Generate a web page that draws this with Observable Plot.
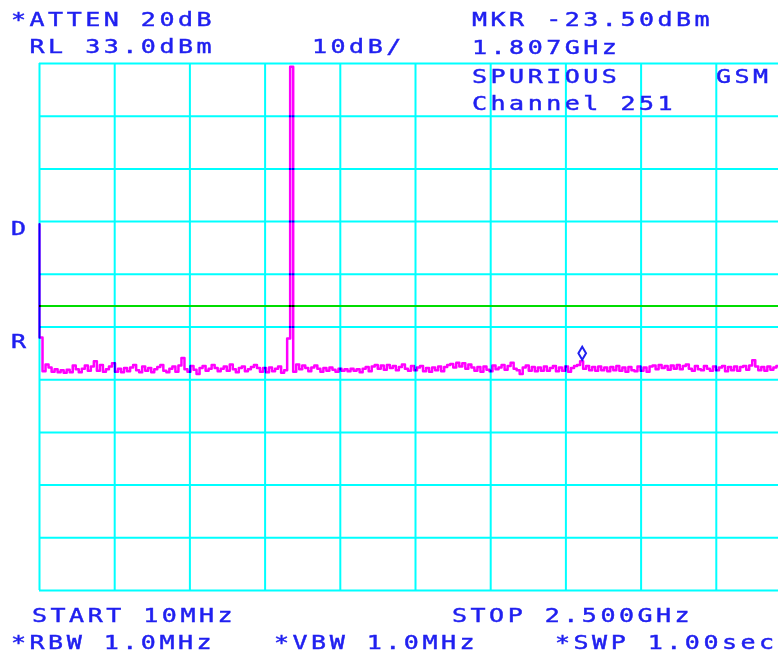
<!DOCTYPE html>
<html>
<head>
<meta charset="utf-8">
<script src="https://cdn.jsdelivr.net/npm/d3@7"></script>
<script src="https://cdn.jsdelivr.net/npm/@observablehq/plot@0.6"></script>
<style>
  html, body { margin: 0; padding: 0; background: #fff; overflow: hidden; }
  #screen { position: relative; width: 778px; height: 661px; }
  #screen svg { position: absolute; left: 0; top: 0; }
  .lbl {
    position: absolute;
    font-family: "DejaVu Sans Mono", "Liberation Mono", monospace;
    font-size: 20px;
    line-height: 1;
    color: #2020f0;
    -webkit-text-stroke: 0.45px #2020f0;
    white-space: pre;
    letter-spacing: 2.8px;
    transform: scaleX(1.25);
    transform-origin: 0 0;
  }
</style>
</head>
<body>
<div id="screen"></div>
<script>
// ---------------- data ----------------
const START_MHZ = 10;
const STOP_MHZ = 2500;

// sweep trace, dBm, evenly spaced sweep points from START to STOP
const traceDbm = [
  2.5, -19.0, -25.4, -24.1, -24.7, -25.5, -25.0, -25.6, -25.2, -25.7,
  -25.1, -25.6, -24.3, -25.0, -25.6, -24.9, -24.3, -25.3, -24.5, -23.5,
  -25.3, -24.2, -25.5, -25.0, -24.5, -23.9, -25.5, -24.9, -25.6, -24.8,
  -25.4, -24.7, -24.2, -25.2, -25.6, -24.5, -25.3, -24.8, -25.6, -25.0,
  -24.6, -24.2, -25.3, -25.6, -24.9, -24.5, -25.5, -24.3, -22.9, -25.0,
  -25.5, -24.4, -25.1, -25.9, -24.8, -24.4, -25.3, -24.9, -24.2, -24.8,
  -25.4, -24.9, -24.5, -25.3, -24.1, -25.0, -25.6, -24.8, -24.5, -25.4,
  -25.0, -24.6, -24.2, -24.8, -25.5, -24.8, -25.6, -24.7, -25.4, -24.9,
  -24.5, -25.7, -25.2, -19.2, 32.4, -25.5, -24.1, -25.0, -24.3, -24.8,
  -25.4, -24.7, -24.3, -24.9, -25.5, -24.8, -25.3, -24.7, -25.1, -25.5,
  -24.9, -25.3, -25.0, -25.4, -24.9, -25.3, -25.0, -25.6, -24.9, -24.6,
  -25.4, -24.5, -24.2, -24.9, -24.3, -25.1, -24.2, -24.8, -24.4, -25.2,
  -24.6, -24.1, -24.9, -25.3, -24.4, -25.2, -24.7, -24.4, -25.4, -24.8,
  -25.5, -24.7, -25.2, -24.5, -25.4, -24.6, -24.2, -24.0, -24.7, -23.8,
  -24.5, -23.9, -24.9, -24.1, -24.7, -25.3, -24.6, -25.5, -24.5, -25.1,
  -25.4, -24.3, -25.0, -24.7, -24.2, -25.1, -24.4, -23.8, -24.9, -25.2,
  -25.9, -24.7, -24.3, -25.3, -24.6, -25.4, -24.7, -25.3, -24.5, -25.3,
  -24.8, -24.4, -25.4, -24.7, -25.3, -24.5, -25.5, -24.8, -24.4, -24.2,
  -23.5, -24.9, -24.4, -25.2, -24.6, -25.3, -24.5, -25.2, -24.7, -25.4,
  -24.6, -25.2, -24.4, -25.3, -24.7, -25.5, -24.6, -25.2, -25.4, -24.5,
  -25.3, -24.7, -25.5, -24.5, -24.3, -25.0, -24.2, -24.8, -24.4, -25.1,
  -24.3, -24.9, -24.2, -25.0, -24.4, -24.1, -24.9, -25.3, -24.4, -25.0,
  -25.2, -24.4, -24.9, -25.3, -24.5, -25.2, -24.7, -24.4, -25.4, -24.6,
  -25.2, -24.5, -25.3, -24.6, -24.4, -25.1, -24.3, -23.3, -24.5, -25.2,
  -24.6, -25.3, -24.5, -25.1, -24.7, -24.4, -25.0, -24.6, -25.1, -24.7
];

// graticule divisions
const gridFreqMHz = [10, 259, 508, 757, 1006, 1255, 1504, 1753, 2002, 2251, 2500];
const gridDbm = [33, 23, 13, 3, -7, -17, -27, -37, -47, -57, -67];

// spurious limit line
const limitDbm = [-13];

// marker
const markerFreqMHz = [1807];
const markerDbm = [-23.5];

// annotation texts
const headerLeft = ["*ATTEN 20dB", " RL 33.0dBm"];
const scaleLabel = ["10dB/"];
const headerRight = ["MKR -23.50dBm", "1.807GHz", "SPURIOUS", "Channel 251"];
const systemLabel = ["GSM"];
const sideLabels = ["D", "R"];
const footerTop = ["START 10MHz", "STOP 2.500GHz"];
const footerBottom = ["*RBW 1.0MHz", "*VBW 1.0MHz", "*SWP 1.00sec"];

// ---------------- build ----------------
const step = (STOP_MHZ - START_MHZ) / (traceDbm.length - 1);
const trace = traceDbm.map((v, i) => ({f: START_MHZ + i * step, v}));
const marker = markerFreqMHz.map((f, i) => ({f, v: markerDbm[i]}));

const CYAN = "#00ffff";
const chart = Plot.plot({
  width: 778,
  height: 661,
  x: {type: "linear", domain: [START_MHZ, STOP_MHZ], range: [39, 791], axis: null},
  y: {type: "linear", domain: [-67, 33], range: [590, 63], axis: null},
  style: {background: "white", overflow: "hidden"},
  marks: [
    Plot.ruleX(gridFreqMHz, {x: d => d, y1: -67, y2: 33, stroke: CYAN, strokeWidth: 2}),
    Plot.ruleY(gridDbm, {y: d => d, x1: START_MHZ, x2: STOP_MHZ, stroke: CYAN, strokeWidth: 2}),
    Plot.ruleY(limitDbm, {y: d => d, x1: START_MHZ, x2: STOP_MHZ, stroke: "#00dd00", strokeWidth: 2}),
    Plot.line(trace, {x: "f", y: "v", stroke: "#ff00ff", strokeWidth: 2.5, curve: "step-before"}),
    Plot.dot(marker, {x: "f", y: "v", symbol: "diamond", r: 4, stroke: "#2020f0", strokeWidth: 2, dy: -8})
  ]
});
chart.querySelectorAll('g[aria-label="line"] path, g[aria-label="line"]').forEach(p => {
  p.style.mixBlendMode = "multiply";
});

const screen = document.getElementById("screen");
screen.appendChild(chart);

// annotation layout (left px, top px)
function put(text, left, top) {
  const s = document.createElement("div");
  s.className = "lbl";
  s.textContent = text;
  s.style.left = left + "px";
  s.style.top = top + "px";
  screen.appendChild(s);
}
put(headerLeft[0], 11, 9);
put(headerLeft[1], 11, 36);
put(scaleLabel[0], 312, 36);
put(headerRight[0], 472, 9);
put(headerRight[1], 472, 37);
put(headerRight[2], 472, 66);
put(headerRight[3], 472, 93);
put(systemLabel[0], 716, 66);
put(sideLabels[0], 11, 218);
put(sideLabels[1], 11, 331);
put(footerTop[0], 32, 605);
put(footerTop[1], 452, 605);
put(footerBottom[0], 11, 632);
put(footerBottom[1], 274, 632);
put(footerBottom[2], 555, 632);
</script>
</body>
</html>
